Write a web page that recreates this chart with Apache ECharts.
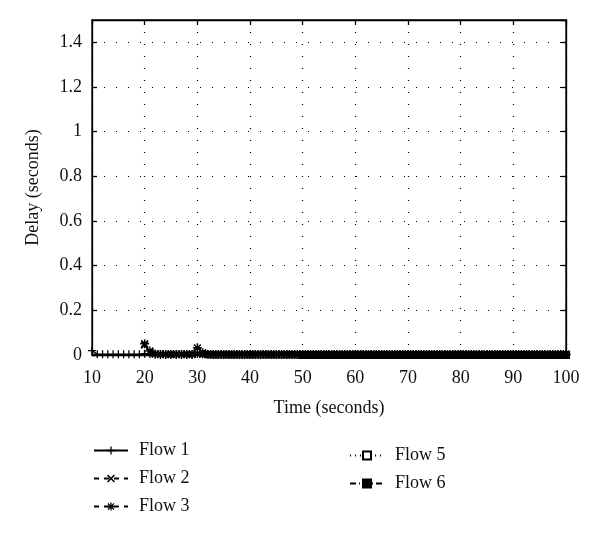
<!DOCTYPE html>
<html><head><meta charset="utf-8">
<script src="https://cdn.jsdelivr.net/npm/echarts@6/dist/echarts.min.js"></script>
<style>html,body{margin:0;padding:0;background:#fff}#c{width:600px;height:536px}</style>
</head><body><div id="c"></div>
<script>
const times = [10,11,12,13,14,15,16,17,18,19,20,21,22,23,24,25,26,27,28,29,30,31,32,33,34,35,36,37,38,39,40,41,42,43,44,45,46,47,48,49,50,51,52,53,54,55,56,57,58,59,60,61,62,63,64,65,66,67,68,69,70,71,72,73,74,75,76,77,78,79,80,81,82,83,84,85,86,87,88,89,90,91,92,93,94,95,96,97,98,99,100];
const flow1 = [0.02,0.003,0.003,0.003,0.003,0.003,0.003,0.003,0.003,0.003,0.006,0.004,0.003,0.003,0.003,0.003,0.003,0.003,0.003,0.003,0.005,0.003,0.003,0.003,0.003,0.003,0.003,0.003,0.003,0.003,0.003,0.003,0.003,0.003,0.003,0.003,0.003,0.003,0.003,0.003,0.003,0.003,0.003,0.003,0.003,0.003,0.003,0.003,0.003,0.003,0.003,0.003,0.003,0.003,0.003,0.003,0.003,0.003,0.003,0.003,0.003,0.003,0.003,0.003,0.003,0.003,0.003,0.003,0.003,0.003,0.003,0.003,0.003,0.003,0.003,0.003,0.003,0.003,0.003,0.003,0.003,0.003,0.003,0.003,0.003,0.003,0.003,0.003,0.003,0.003,0.003];
const flow2 = [null,null,null,null,null,null,null,null,null,null,0.045,0.012,0.005,0.004,0.004,0.004,0.004,0.004,0.004,0.004,0.006,0.004,0.004,0.004,0.004,0.004,0.004,0.004,0.004,0.004,0.004,0.004,0.004,0.004,0.004,0.004,0.004,0.004,0.004,0.004,0.004,0.004,0.004,0.004,0.004,0.004,0.004,0.004,0.004,0.004,0.004,0.004,0.004,0.004,0.004,0.004,0.004,0.004,0.004,0.004,0.004,0.004,0.004,0.004,0.004,0.004,0.004,0.004,0.004,0.004,0.004,0.004,0.004,0.004,0.004,0.004,0.004,0.004,0.004,0.004,0.004,0.004,0.004,0.004,0.004,0.004,0.004,0.004,0.004,0.004,0.004];
const flow3 = [null,null,null,null,null,null,null,null,null,null,0.05,0.018,0.005,0.002,0.002,0.002,0.002,0.002,0.002,0.002,0.032,0.01,0.003,0.002,0.002,0.002,0.002,0.002,0.002,0.002,0.002,0.002,0.002,0.002,0.002,0.002,0.002,0.002,0.002,0.002,0.002,0.002,0.002,0.002,0.002,0.002,0.002,0.002,0.002,0.002,0.002,0.002,0.002,0.002,0.002,0.002,0.002,0.002,0.002,0.002,0.002,0.002,0.002,0.002,0.002,0.002,0.002,0.002,0.002,0.002,0.002,0.002,0.002,0.002,0.002,0.002,0.002,0.002,0.002,0.002,0.002,0.002,0.002,0.002,0.002,0.002,0.002,0.002,0.002,0.002,0.002];
const flow5 = [null,null,null,null,null,null,null,null,null,null,null,null,null,null,null,null,null,null,null,null,0.02,0.006,0.002,0.001,0.001,0.001,0.001,0.001,0.001,0.001,0.001,0.001,0.001,0.001,0.001,0.001,0.001,0.001,0.001,0.001,0.001,0.001,0.001,0.001,0.001,0.001,0.001,0.001,0.001,0.001,0.001,0.001,0.001,0.001,0.001,0.001,0.001,0.001,0.001,0.001,0.001,0.001,0.001,0.001,0.001,0.001,0.001,0.001,0.001,0.001,0.001,0.001,0.001,0.001,0.001,0.001,0.001,0.001,0.001,0.001,0.001,0.001,0.001,0.001,0.001,0.001,0.001,0.001,0.001,0.001,0.001];
const flow6 = [null,null,null,null,null,null,null,null,null,null,null,null,null,null,null,null,null,null,null,null,null,null,null,null,null,null,null,null,null,null,null,null,null,null,null,null,null,null,null,null,0.0,0.0,0.0,0.0,0.0,0.0,0.0,0.0,0.0,0.0,0.0,0.0,0.0,0.0,0.0,0.0,0.0,0.0,0.0,0.0,0.0,0.0,0.0,0.0,0.0,0.0,0.0,0.0,0.0,0.0,0.0,0.0,0.0,0.0,0.0,0.0,0.0,0.0,0.0,0.0,0.0,0.0,0.0,0.0,0.0,0.0,0.0,0.0,0.0,0.0,0.0];
const seriesNames = ['Flow 1','Flow 2','Flow 3','Flow 5','Flow 6'];

const plusP = 'path://M-0.8,-5H0.8V-0.8H5V0.8H0.8V5H-0.8V0.8H-5V-0.8H-0.8Z';
const crossP = 'path://M-4,-2.9L-2.9,-4L0,-1.1L2.9,-4L4,-2.9L1.1,0L4,2.9L2.9,4L0,1.1L-2.9,4L-4,2.9L-1.1,0Z';
const starP = 'path://M-0.8,-5H0.8V-1.9L3.2,-4.4L4.4,-3.2L1.9,-0.8H5V0.8H1.9L4.4,3.2L3.2,4.4L0.8,1.9V5H-0.8V1.9L-3.2,4.4L-4.4,3.2L-1.9,0.8H-5V-0.8H-1.9L-4.4,-3.2L-3.2,-4.4L-0.8,-1.9Z';
const FONT = 'Liberation Serif';
const pair = v => times.map((t,i)=>[t, v[i]]);
const vals = [flow1, flow2, flow3, flow5, flow6];
const styles = [
  {sym: plusP, size: 8, line: 'solid', fill: '#000', z: 5},
  {sym: crossP, size: 8, line: [5,5], fill: '#000', z: 4},
  {sym: starP, size: 9, line: [5,5], fill: '#000', z: 6},
  {sym: 'rect', size: 6, line: [1,4], fill: '#fff', z: 2},
  {sym: 'rect', size: 7, line: [6,3,1,3], fill: '#000', z: 3}
];
const series = seriesNames.map((n,i)=>({
  name: n, type: 'line', data: pair(vals[i]), connectNulls: false, z: styles[i].z,
  symbol: styles[i].sym, symbolSize: styles[i].size, showAllSymbol: true,
  lineStyle: {color: '#000', width: 1.4, type: styles[i].line},
  itemStyle: {color: styles[i].fill, borderColor: '#000', borderWidth: styles[i].sym==='rect'?1.2:0},
  emphasis: {disabled: true}, animation: false
}));

const chart = echarts.init(document.getElementById('c'), null, {renderer: 'canvas'});
const legendBase = {orient: 'vertical', itemWidth: 34, itemHeight: 10, itemGap: 9,
  textStyle: {fontFamily: FONT, fontSize: 18, lineHeight: 19, color: '#111', padding: [0,0,0,6]}, selectedMode: false};
const frameTick = {show: true, inside: true, length: 5, lineStyle: {color: '#000', width: 1.3}};
chart.setOption({
  backgroundColor: '#fff',
  animation: false,
  grid: {left: 92, right: 34, top: 20, bottom: 181, show: true, borderColor: '#000', borderWidth: 1.3, backgroundColor: 'transparent'},
  legend: [
    Object.assign({}, legendBase, {left: 88, top: 436, data: seriesNames.slice(0,3)}),
    Object.assign({}, legendBase, {left: 344, top: 441, data: seriesNames.slice(3)})
  ],
  xAxis: [{type: 'value', min: 10, max: 100, interval: 10,
    name: 'Time (seconds)', nameLocation: 'middle', nameGap: 44,
    nameTextStyle: {fontFamily: FONT, fontSize: 18, color: '#111'},
    axisLine: {show: true, onZero: false, lineStyle: {color: '#000', width: 1.3}},
    axisTick: frameTick,
    axisLabel: {fontFamily: FONT, fontSize: 18, color: '#111', margin: 14},
    splitLine: {show: true, lineStyle: {color: '#000', width: 1.2, type: [1, 11]}}
  }, {type: 'value', position: 'top', min: 10, max: 100, interval: 10,
    axisLine: {show: true, onZero: false, lineStyle: {color: '#000', width: 1.3}},
    axisTick: frameTick, axisLabel: {show: false}, splitLine: {show: false}
  }],
  yAxis: [{type: 'value', min: 0, max: 1.5, interval: 0.2,
    name: 'Delay (seconds)', nameLocation: 'middle', nameGap: 50,
    nameTextStyle: {fontFamily: FONT, fontSize: 18, color: '#111'},
    axisLine: {show: true, lineStyle: {color: '#000', width: 1.3}},
    axisTick: frameTick,
    axisLabel: {fontFamily: FONT, fontSize: 18, color: '#111', margin: 10, showMaxLabel: false,
      formatter: v => (Math.abs(v - 1.5) < 1e-6) ? '' : String(Math.round(v * 10) / 10)},
    splitLine: {show: true, lineStyle: {color: '#000', width: 1.2, type: [1, 11]}}
  }, {type: 'value', position: 'right', min: 0, max: 1.5, interval: 0.2,
    axisLine: {show: true, onZero: false, lineStyle: {color: '#000', width: 1.3}},
    axisTick: Object.assign({}, frameTick), axisLabel: {show: false}, splitLine: {show: false}
  }],
  series: series
});
</script></body></html>
